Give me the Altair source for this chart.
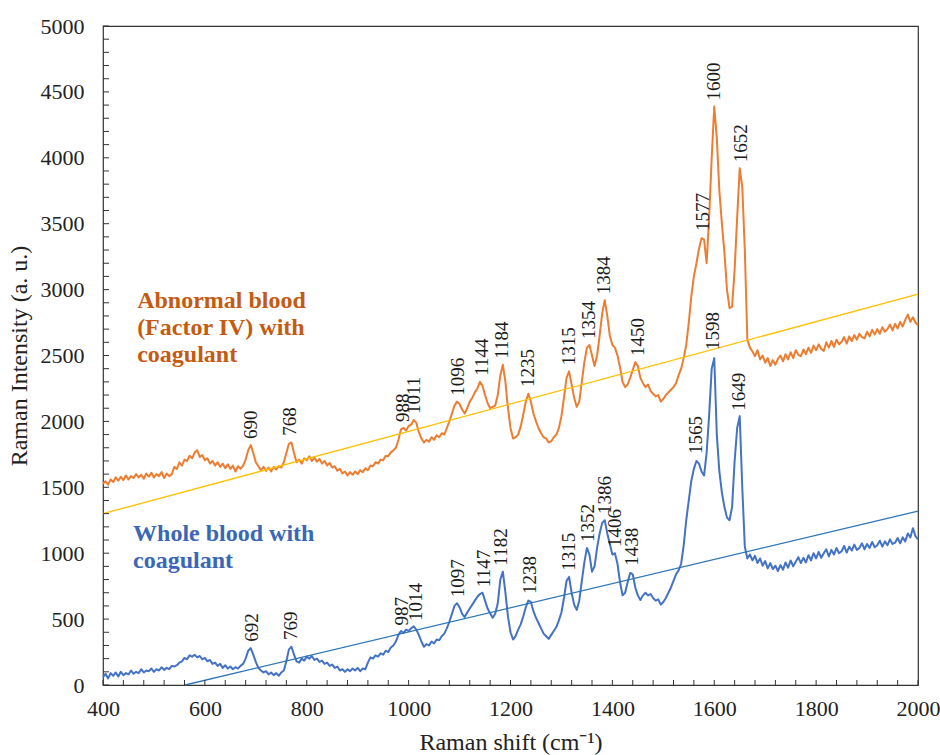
import altair as alt
import pandas as pd

# Raman shift sampling grid (cm-1), 5 cm-1 steps from 400 to 2000
shift = list(range(400, 2001, 5))

# Abnormal blood (Factor IV) with coagulant
abnormal = [
    1530, 1545, 1520, 1560, 1540, 1575, 1550, 1580, 1555, 1590, 1560, 1585, 1570, 1600, 1575, 1595, 1565, 1605, 1580, 1610,
    1575, 1600, 1585, 1615, 1570, 1605, 1585, 1600, 1655, 1640, 1690, 1665, 1710, 1700, 1740, 1720, 1765, 1780, 1730, 1745,
    1705, 1720, 1680, 1700, 1665, 1690, 1655, 1680, 1645, 1675, 1640, 1665, 1620, 1660, 1640, 1665, 1710, 1780, 1820, 1760,
    1690, 1660, 1630, 1655, 1625, 1650, 1620, 1655, 1635, 1660, 1650, 1690, 1760, 1830, 1840, 1760, 1690, 1710, 1680, 1720,
    1705, 1735, 1700, 1725, 1695, 1715, 1680, 1700, 1665, 1685, 1650, 1660, 1625, 1640, 1605, 1620, 1590, 1615, 1595, 1620,
    1600, 1630, 1615, 1645, 1630, 1665, 1660, 1690, 1680, 1710, 1705, 1740, 1735, 1765, 1780, 1800, 1860, 1940, 1950, 1930,
    1965, 1975, 2010, 1990, 1920, 1870, 1840, 1860, 1845, 1880, 1860, 1895, 1880, 1910, 1900, 1950, 2000, 2060, 2120, 2150,
    2130, 2090, 2060, 2100, 2150, 2180, 2220, 2250, 2300, 2270, 2200, 2140, 2100, 2110, 2120, 2200, 2350, 2430, 2300, 2100,
    1950, 1870, 1880, 1900, 1960, 2050, 2150, 2210, 2150, 2060, 2000, 1950, 1910, 1880, 1870, 1840, 1850, 1880, 1900, 1950,
    2040, 2180, 2330, 2380, 2280, 2180, 2110, 2150, 2300, 2450, 2560, 2580, 2500, 2420, 2500, 2650, 2820, 2920, 2800, 2650,
    2580, 2560, 2500, 2410, 2300, 2260, 2280, 2330, 2390, 2450, 2420, 2330, 2290, 2260, 2280, 2230, 2210, 2190, 2200, 2150,
    2170, 2200, 2220, 2240, 2260, 2290, 2350, 2400, 2480, 2580, 2750, 2950, 3100, 3200, 3310, 3390, 3380, 3200, 3550, 4000,
    4390, 4150, 3750, 3500, 3280, 3000, 2860, 2870, 3150, 3550, 3920, 3780, 3300, 2620, 2560, 2530, 2495, 2540, 2470, 2500,
    2445, 2480, 2420, 2465, 2430, 2475, 2500, 2455, 2510, 2470, 2525, 2480, 2540, 2505, 2495, 2545, 2510, 2560, 2520, 2575,
    2540, 2585, 2550, 2535, 2600, 2560, 2610, 2565, 2620, 2585, 2605, 2640, 2590, 2645, 2610, 2655, 2620, 2665, 2640, 2630,
    2680, 2645, 2695, 2660, 2700, 2665, 2715, 2680, 2700, 2735, 2690, 2740, 2705, 2755, 2720, 2770, 2810, 2755, 2790, 2750,
    2730,
]

# Whole blood with coagulant
whole = [
    60, 85, 50, 90, 70, 95, 65, 100, 75, 90, 80, 110, 85, 100, 90, 120, 95, 110, 105, 125,
    100, 120, 110, 135, 115, 130, 120, 145, 140, 150, 170, 180, 205, 195, 225, 215, 230, 210, 220, 195,
    205, 180, 190, 160, 170, 145, 160, 130, 150, 125, 140, 120, 135, 125, 145, 160, 200, 260, 280, 230,
    175, 130, 110, 95, 105, 80, 95, 75, 90, 70, 95, 110, 180, 270, 290, 230, 180, 170, 200, 185,
    215, 200, 220, 190, 200, 175, 185, 160, 170, 145, 155, 130, 140, 110, 120, 100, 120, 105, 125, 110,
    130, 105, 125, 120, 170, 210, 200, 225, 215, 240, 230, 260, 250, 285, 300, 330, 380, 410, 395, 420,
    410, 430, 445, 420, 380, 330, 290, 310, 300, 330, 315, 345, 340, 370, 390, 430, 480, 540, 600, 620,
    590, 540, 515, 550, 580, 610, 640, 670, 690, 700, 640, 580, 545, 510, 540, 620, 800, 860, 700, 520,
    400, 345, 370, 420, 460, 520, 590, 640, 630, 560, 510, 470, 430, 390, 370, 350, 380, 410, 440, 490,
    550, 660, 790, 820, 700, 610, 570, 640, 790, 930, 1040, 990, 860, 900, 1040, 1150, 1230, 1250, 1150, 1070,
    990, 1000, 920, 780, 680, 700, 780, 850, 840, 740, 680, 645, 680, 700, 680, 690, 660, 640, 650, 610,
    630, 660, 700, 740, 790, 840, 870, 920, 1060, 1250, 1400, 1550, 1640, 1700, 1680, 1620, 1590, 1760, 2050, 2400,
    2480, 1900, 1620, 1460, 1350, 1270, 1250, 1350, 1700, 1950, 2040, 1500, 1050, 960, 990, 945, 980, 925, 960, 905,
    940, 885, 925, 880, 905, 865, 910, 875, 930, 890, 945, 900, 935, 970, 925, 965, 930, 985, 945, 1000,
    960, 1010, 965, 1000, 1030, 975, 1025, 990, 1040, 1000, 1015, 1055, 1005, 1050, 1020, 1065, 1025, 1040, 1075, 1030,
    1070, 1040, 1085, 1045, 1060, 1095, 1050, 1090, 1060, 1105, 1070, 1080, 1115, 1075, 1120, 1090, 1150, 1120, 1190, 1130,
    1105,
]

# Straight reference lines under each spectrum (end points)
abnormal_base_shift = [400, 2000]
abnormal_base_int = [1300, 2965]
whole_base_shift = [561, 2000]
whole_base_int = [0, 1320]

# Assigned peaks (cm-1) and the intensity at each peak top
abnormal_peaks = [690, 768, 988, 1011, 1096, 1144, 1184, 1235, 1315, 1354, 1384, 1450, 1577, 1600, 1652]
abnormal_peak_int = [1820, 1845, 1950, 2010, 2150, 2300, 2430, 2215, 2380, 2580, 2920, 2450, 3400, 4390, 3920]
whole_peaks = [692, 769, 987, 1014, 1097, 1147, 1182, 1238, 1315, 1352, 1386, 1406, 1438, 1565, 1598, 1649]
whole_peak_int = [283, 296, 405, 440, 620, 697, 860, 645, 822, 1040, 1252, 1001, 860, 1707, 2496, 2036]

x_ticks = list(range(400, 2001, 200))
y_ticks = list(range(0, 5001, 500))
x_minor = list(range(400, 2001, 40))
y_minor = list(range(0, 5001, 100))

assert len(abnormal) == len(shift) and len(whole) == len(shift)

ORANGE = "#ED7D31"
BLUE = "#4472C4"
FONT = "Liberation Serif"

spectra = pd.DataFrame({
    "shift": shift * 2,
    "intensity": abnormal + whole,
    "sample": ["abnormal"] * len(shift) + ["whole"] * len(shift),
})

x_scale = alt.Scale(domain=[400, 2000], nice=False, zero=False)
y_scale = alt.Scale(domain=[0, 5000], nice=False, zero=False)

x_axis = alt.Axis(
    values=x_ticks, format="d", title="Raman shift (cm⁻¹)", grid=False, ticks=False, domain=False,
    labelFlush=False, labelFontSize=22, labelPadding=13, titleFontSize=24, titlePadding=11)
y_axis = alt.Axis(
    values=y_ticks, format="d", title="Raman Intensity (a. u.)", grid=False, ticks=False, domain=False,
    labelFlush=False, labelFontSize=22, labelPadding=19, titleFontSize=24, titlePadding=9)


def X(field="shift:Q"):
    return alt.X(field, scale=x_scale, axis=x_axis)


def Y(field="intensity:Q"):
    return alt.Y(field, scale=y_scale, axis=y_axis)


curves = alt.Chart(spectra).mark_line(strokeWidth=2, strokeJoin="round").encode(
    x=X(), y=Y(),
    color=alt.Color("sample:N", scale=alt.Scale(domain=["abnormal", "whole"], range=[ORANGE, BLUE]), legend=None),
    detail="sample:N",
)

base_a = alt.Chart(pd.DataFrame({"shift": abnormal_base_shift, "intensity": abnormal_base_int})).mark_line(
    color="#FFC000", strokeWidth=1.3).encode(x=X(), y=Y())
base_w = alt.Chart(pd.DataFrame({"shift": whole_base_shift, "intensity": whole_base_int})).mark_line(
    color="#2E75B6", strokeWidth=1.3).encode(x=X(), y=Y())


def peak_labels(peaks, heights):
    df = pd.DataFrame({"shift": peaks, "intensity": heights, "label": [str(p) for p in peaks]})
    return alt.Chart(df).mark_text(
        angle=270, align="left", baseline="middle", dx=6, font=FONT, fontSize=19, color="#1a1a1a"
    ).encode(x=X(), y=Y(), text="label:N")


labels_a = peak_labels(abnormal_peaks, abnormal_peak_int)
labels_w = peak_labels(whole_peaks, whole_peak_int)

ann_a = alt.Chart(pd.DataFrame({"shift": [467], "intensity": [2860]})).mark_text(
    text=["Abnormal blood", "(Factor IV) with", "coagulant"], align="left", baseline="alphabetic",
    font=FONT, fontSize=24, fontWeight="bold", lineHeight=27, color="#C55A11"
).encode(x=X(), y=Y())

ann_w = alt.Chart(pd.DataFrame({"shift": [459], "intensity": [1093]})).mark_text(
    text=["Whole blood with", "coagulant"], align="left", baseline="alphabetic",
    font=FONT, fontSize=24, fontWeight="bold", lineHeight=27, color="#3A66B8"
).encode(x=X(), y=Y())

# inward-pointing ticks along the bottom and left edges
xt = alt.Chart(pd.DataFrame({"shift": x_minor})).mark_rule(color="#333333", strokeWidth=1).encode(
    x=X(), y=alt.value(659), y2=alt.value(654))
yt = alt.Chart(pd.DataFrame({"intensity": y_minor})).mark_rule(color="#333333", strokeWidth=1).encode(
    y=Y(), x=alt.value(0), x2=alt.value(6))

chart = alt.layer(curves, base_a, base_w, labels_a, labels_w, ann_a, ann_w, xt, yt).properties(
    width=815, height=659,
    padding={"left": 103, "top": 26, "right": 22, "bottom": 70},
    autosize=alt.AutoSizeParams(type="none"),
    background="white",
).configure_view(
    stroke="#333333", strokeWidth=1.2
).configure_axis(
    labelFont=FONT, titleFont=FONT, labelColor="#222222", titleColor="#222222", titleFontWeight="normal"
)

chart.save("out.html", embed_options={"renderer": "svg", "actions": False})
